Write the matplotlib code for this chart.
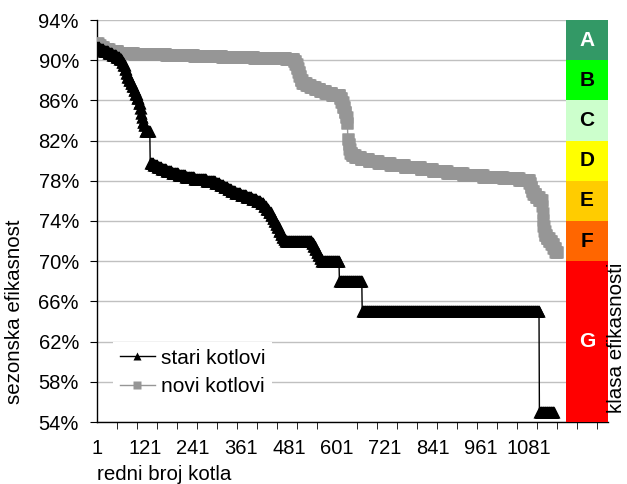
import numpy as np
import matplotlib.pyplot as plt

plt.rcParams['font.family'] = ['Liberation Sans', 'DejaVu Sans']

# sezonska efikasnost (%) sortirana, zapisana kao (vrijednost, broj kotlova)
stari_eff = [91.3, 91.1, 90.9, 90.7, 90.5, 90.3, 90.1,
             89.8, 89.5, 89.1, 88.7, 88.3, 88.0, 87.7, 87.4, 87.0, 86.6, 86.2, 85.7,
             85.2, 84.7, 84.3, 83.9, 83.6, 83.0,
             79.8, 79.6, 79.4, 79.2, 79.0, 78.8, 78.6, 78.4, 78.2, 78.0, 77.8, 77.6,
             77.4, 77.2, 77.0, 76.8, 76.6, 76.4, 76.2, 76.0, 75.8, 75.5, 75.2, 74.9,
             74.6, 74.3, 74.0, 73.7, 73.4, 73.0, 72.7, 72.4, 72.2,
             72.0, 71.8, 71.5, 71.2, 70.9, 70.6, 70.3, 70.0, 68.0, 65.0, 55.0]
stari_cnt = [6, 10, 12, 10, 10, 8, 6,
             4, 4, 3, 3, 4, 4, 4, 4, 4, 4, 4, 4,
             2, 2, 2, 3, 3, 13,
             8, 10, 10, 12, 14, 16, 18, 22, 30, 22, 12, 10,
             10, 8, 10, 14, 14, 14, 12, 10, 8, 6, 6, 6,
             4, 4, 4, 4, 4, 4, 4, 4, 4,
             66, 4, 4, 4, 4, 4, 4, 45, 57, 443, 37]

novi_eff = [91.7, 91.5, 91.3, 91.1, 90.9, 90.7, 90.6, 90.5, 90.4, 90.3, 90.2, 90.1,
            89.9, 89.6, 89.2, 88.8, 88.4, 88.0, 87.7, 87.5, 87.3, 87.1, 86.9, 86.7,
            86.5, 86.2, 85.8, 85.3, 84.8, 84.3, 83.8,
            82.2, 81.7, 81.2, 80.8, 80.6, 80.4, 80.2, 80.0, 79.8, 79.6, 79.4, 79.2,
            79.0, 78.8, 78.6, 78.4, 78.3, 78.1,
            77.8, 77.4, 77.0, 76.7, 76.4, 76.1, 75.5, 74.8, 74.1, 73.5, 73.0, 72.6,
            72.3, 72.0, 71.7, 71.3, 70.9]
novi_cnt = [3, 5, 8, 14, 22, 40, 80, 70, 70, 80, 80, 20,
            4, 4, 3, 3, 3, 4, 10, 10, 12, 12, 14, 16,
            20, 4, 4, 4, 3, 3, 2,
            2, 2, 2, 4, 8, 14, 20, 24, 30, 36, 40, 30,
            36, 40, 50, 50, 40, 26,
            3, 3, 4, 6, 8, 8, 1, 1, 1, 2, 2, 4,
            6, 6, 5, 5, 5]

# klase efikasnosti
klase = ['A', 'B', 'C', 'D', 'E', 'F', 'G']
klase_od = [90, 86, 82, 78, 74, 70, 54]
klase_do = [94, 90, 86, 82, 78, 74, 70]
klase_boje = ['#339966', '#00ff00', '#ccffcc', '#ffff00', '#ffcc00', '#ff6600', '#ff0000']
klase_slova = ['white', 'black', 'black', 'black', 'black', 'black', 'white']

stari = np.repeat(stari_eff, stari_cnt)
novi = np.repeat(novi_eff, novi_cnt)
x_stari = np.arange(1, len(stari) + 1)
x_novi = np.arange(1, len(novi) + 1)

fig = plt.figure(figsize=(6.27, 4.84), dpi=100)
ax = fig.add_axes([97 / 627, 1 - 422 / 484, 511 / 627, 402 / 484])

ax.set_xlim(1, 1278.5)
ax.set_ylim(54, 94)
ax.set_yticks(range(54, 95, 4))
ax.set_yticklabels([f'{v}%' for v in range(54, 95, 4)])
ax.yaxis.grid(True, color='#c0c0c0', lw=1)
ax.set_axisbelow(True)

ax.plot(x_novi, novi, color='#969696', lw=1, marker='s', ms=8.2, mec='none',
        label='novi kotlovi', zorder=3)
ax.plot(x_stari, stari, color='black', lw=1, marker='^', ms=8.2, mec='none',
        label='stari kotlovi', zorder=4)

# stupac s klasama
for k, od, do, boja, sl in zip(klase, klase_od, klase_do, klase_boje, klase_slova):
    ax.bar(1173.5, do - od, bottom=od, width=105, align='edge', color=boja, zorder=5)
    ax.text(1226, (od + do) / 2, k, ha='center', va='center', color=sl,
            fontsize=15, fontweight='bold', zorder=6)

ax.set_xticks(range(1, 1082, 120))
ax.set_xticks(range(1, 1278, 50), minor=True)
ax.tick_params(axis='x', which='major', length=0, pad=12, labelsize=14.5)
ax.tick_params(axis='x', which='minor', length=5, direction='out')
ax.tick_params(axis='y', length=5, direction='out', pad=8, labelsize=14.5)

for s in ['top', 'right']:
    ax.spines[s].set_visible(False)
ax.spines['left'].set_linewidth(1)
ax.spines['bottom'].set_linewidth(1)

h, l = ax.get_legend_handles_labels()
leg = ax.legend(h[::-1], l[::-1], loc='upper left', bbox_to_anchor=(103 / 627, 1 - 332 / 484),
                bbox_transform=fig.transFigure, fontsize=15, frameon=True, framealpha=1,
                edgecolor='none', facecolor='white', handlelength=1.7, handletextpad=0.3,
                borderpad=0.3, labelspacing=0.45, markerscale=0.75, fancybox=False)
leg.set_zorder(7)

fig.text(15 / 627, 1 - 312 / 484, 'sezonska efikasnost', rotation=90, ha='center',
         va='center', fontsize=14.8)
fig.text(97 / 627, 1 - 474 / 484, 'redni broj kotla', ha='left', va='center', fontsize=14.8)
fig.text(617 / 627, 1 - 338 / 484, 'klasa efikasnosti', rotation=90, ha='center',
         va='center', fontsize=14.8)

plt.savefig('out.png', dpi=100)
